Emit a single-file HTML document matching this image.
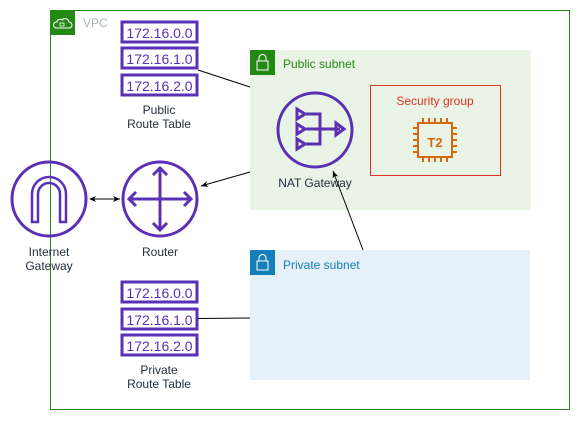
<!DOCTYPE html>
<html><head><meta charset="utf-8"><style>
html,body{margin:0;padding:0;background:#fff;}
svg{display:block;font-family:"Liberation Sans",sans-serif;}
</style></head><body>
<svg width="581" height="421" viewBox="0 0 581 421" xmlns="http://www.w3.org/2000/svg">
<defs>
<marker id="ah" markerWidth="8" markerHeight="8" refX="7" refY="4" orient="auto" markerUnits="userSpaceOnUse">
<path d="M0,1 L7,4 L0,7 L2,4 Z" fill="#000"/></marker>
<marker id="ahs" markerWidth="8" markerHeight="8" refX="1" refY="4" orient="auto" markerUnits="userSpaceOnUse">
<path d="M7,1 L0,4 L7,7 L5,4 Z" fill="#000"/></marker>
</defs>
<!-- VPC -->
<rect x="50.5" y="10.5" width="519" height="399" fill="none" stroke="#248814"/>
<rect x="50" y="10" width="25" height="25" fill="#248814"/>
<path d="M56,28 h13 a3,3 0 0 0 0,-6 a4,4 0 0 0 -7,-2 a3,3 0 0 0 -5,2 a3,3 0 0 0 -1,6z" fill="none" stroke="#fff" stroke-width="1"/>
<rect x="60" y="23" width="4" height="3" fill="none" stroke="#fff" stroke-width="0.8"/>
<text x="83" y="27" font-size="12" fill="#aab7b8">VPC</text>
<!-- Public subnet -->
<rect x="250" y="50" width="281" height="160" fill="#e9f3e6"/>
<rect x="250" y="50" width="25" height="25" fill="#248814"/>
<rect x="257" y="61" width="11" height="9" fill="none" stroke="#fff"/>
<path d="M259,61 v-3 a3.5,3.5 0 0 1 7,0 v3" fill="none" stroke="#fff"/>
<text x="283" y="68" font-size="12" fill="#248814">Public subnet</text>
<!-- Security group -->
<rect x="370.5" y="85.5" width="130" height="90" fill="none" stroke="#dd3522"/>
<text x="435" y="105" font-size="12" fill="#dd3522" text-anchor="middle">Security group</text>
<g stroke="#d86613" stroke-width="2" fill="none">
<rect x="418" y="123" width="34" height="34"/>
<path d="M423,118v5M429,118v5M435,118v5M441,118v5M447,118v5M423,157v5M429,157v5M435,157v5M441,157v5M447,157v5M413,128h5M413,134h5M413,140h5M413,146h5M413,152h5M452,128h5M452,134h5M452,140h5M452,146h5M452,152h5"/>
</g>
<text x="435" y="147" font-size="13" font-weight="bold" fill="#d86613" text-anchor="middle">T2</text>
<!-- NAT -->
<g stroke="#5a30b5" stroke-width="3" fill="none">
<circle cx="315" cy="130" r="37"/>
<path d="M297,109 l8,5 l-8,5z M297,124 l8,5 l-8,5z M297,139 l8,5 l-8,5z"/>
<path d="M306,114 h14 v30 h-14 M306,129 h34 M336,123 l8,6 l-8,6z"/>
</g>
<text x="315" y="187" font-size="12" fill="#232f3e" text-anchor="middle">NAT Gateway</text>
<!-- Private subnet -->
<rect x="250" y="250" width="280" height="130" fill="#e6f0f8"/>
<rect x="250" y="250" width="25" height="25" fill="#147eba"/>
<rect x="257" y="261" width="11" height="9" fill="none" stroke="#fff"/>
<path d="M259,261 v-3 a3.5,3.5 0 0 1 7,0 v3" fill="none" stroke="#fff"/>
<text x="283" y="269" font-size="12" fill="#147eba">Private subnet</text>
<!-- route tables -->
<g stroke="#5a30b5" stroke-width="3" fill="#fff">
<rect x="122" y="22" width="75" height="20"/><rect x="122" y="48" width="75" height="20"/><rect x="122" y="75" width="75" height="20"/>
<rect x="122" y="282" width="75" height="20"/><rect x="122" y="309" width="75" height="20"/><rect x="122" y="335" width="75" height="20"/>
</g>
<g font-size="14" fill="#5a30b5" text-anchor="middle">
<text x="159.5" y="38">172.16.0.0</text><text x="159.5" y="64">172.16.1.0</text><text x="159.5" y="91">172.16.2.0</text>
<text x="159.5" y="298">172.16.0.0</text><text x="159.5" y="325">172.16.1.0</text><text x="159.5" y="351">172.16.2.0</text>
</g>
<g font-size="12" fill="#232f3e" text-anchor="middle">
<text x="159" y="114">Public</text><text x="159" y="128">Route Table</text>
<text x="159" y="374">Private</text><text x="159" y="388">Route Table</text>
<text x="160" y="256">Router</text>
<text x="49" y="256">Internet</text><text x="49" y="270">Gateway</text>
</g>
<!-- IGW -->
<g stroke="#5a30b5" stroke-width="3" fill="none">
<circle cx="49" cy="199" r="37"/>
<path d="M32,222 v-28 a17,17 0 0 1 34,0 v28 h-6 v-28 a11,11 0 0 0 -22,0 v28z" stroke-width="2.5"/>
<circle cx="160" cy="199" r="37"/>
<path d="M160,168 v62 M129,199 h62 M153,175 l7,-7 l7,7 M153,223 l7,7 l7,-7 M136,192 l-7,7 l7,7 M184,192 l7,7 l-7,7"/>
</g>
<!-- connectors -->
<g stroke="#000" stroke-width="1" fill="none">
<line x1="198" y1="70" x2="250" y2="87"/>
<line x1="250" y1="172" x2="201" y2="186" marker-end="url(#ah)"/>
<line x1="198" y1="318.5" x2="250" y2="318"/>
<line x1="363" y1="250" x2="333" y2="171" marker-end="url(#ah)"/>
<line x1="90" y1="199" x2="120" y2="199" marker-start="url(#ahs)" marker-end="url(#ah)"/>
</g>
</svg>
</body></html>
